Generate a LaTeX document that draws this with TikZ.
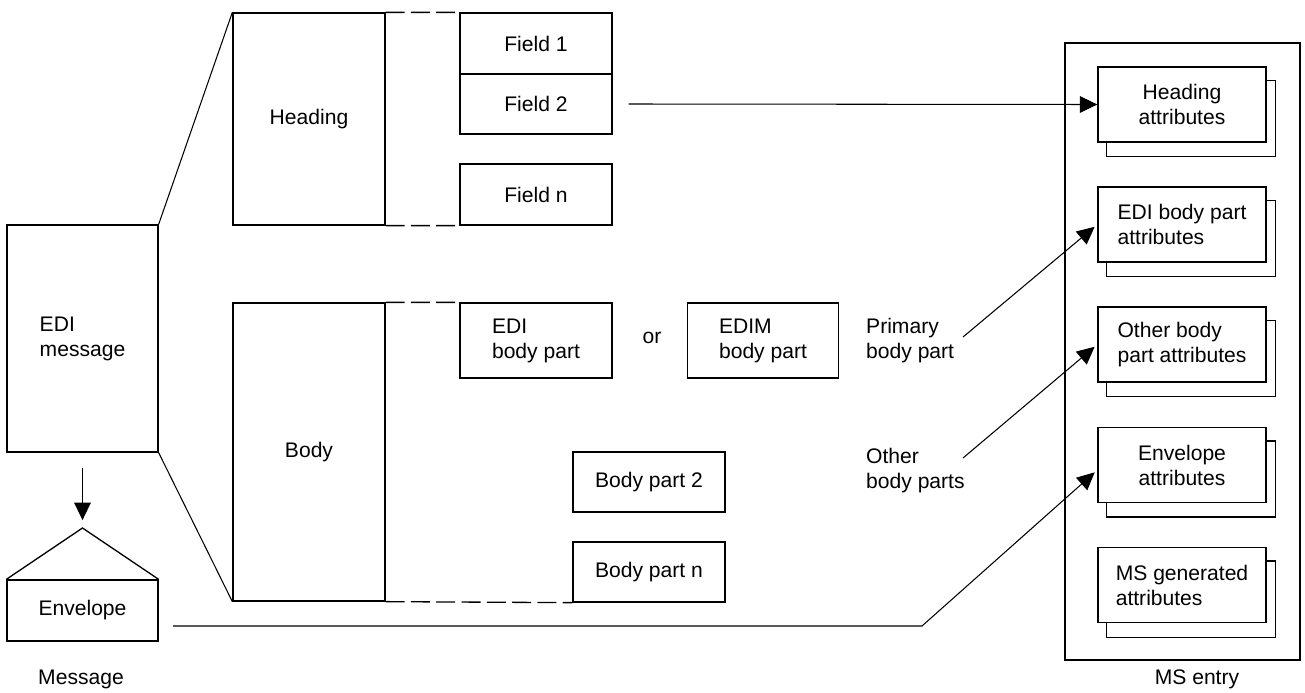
\documentclass[tikz,border=0pt]{standalone}
\usepackage{fontspec}
\setmainfont{Liberation Sans}
\usetikzlibrary{arrows.meta, backgrounds}

\begin{document}
\begin{tikzpicture}[x=0.02cm, y=-0.02cm,
  every node/.style={font=\fontsize{12}{14.2}\selectfont},
  box/.style={draw, line width=.75pt, inner sep=0pt, align=center},
  attr/.style={box, fill=white, minimum width=3.36cm, minimum height=1.5cm},
  link/.style={line width=.6pt},
  gap/.style={line width=.75pt, dash pattern=on 10.8pt off 3.6pt},
  arr/.style={link, -{Triangle[length=10pt, width=9.5pt]}}]
  \useasboundingbox (0,0) rectangle (1305,693);

  % message side
  \node[box, minimum width=3.02cm, minimum height=4.54cm, align=left] (msg) at (82.5,338.5) {EDI\\message};
  \node[box, minimum width=3.02cm, minimum height=1.22cm] (env) at (82.5,610.5) {Envelope};
  \coordinate (roof) at (82.5,528);
  \draw[box] (env.north west) -- (roof) -- (env.north east);
  \draw[arr, shorten >=4.5pt] ([yshift=-.3cm]msg.south) -- (roof);
  \node (msglbl) at (81,679) {Message};

  % heading and body
  \node[box, minimum width=3.04cm, minimum height=4.24cm] (head) at (309,119) {Heading};
  \node[box, minimum width=3.04cm, minimum height=5.96cm] (body) at (309,452) {Body};
  \draw[link] (msg.north east) -- (head.north west);
  \draw[link] (msg.south east) -- (body.south west);

  % fields
  \node[box, minimum width=3.04cm, minimum height=1.22cm] (f1) at (536,43.5) {Field 1};
  \node[box, minimum width=3.04cm, minimum height=1.2cm] (f2) at (536,104) {Field 2};
  \node[box, minimum width=3.04cm, minimum height=1.22cm] (fn) at (536,194.5) {Field n};

  % body parts
  \node[box, minimum width=3.04cm, minimum height=1.5cm, align=left] (edi) at (536,340.5) {EDI\\body part};
  \node (or) at (652,338) {or};
  \node[box, minimum width=3.02cm, minimum height=1.5cm, align=left] (edim) at (763,340.5) {EDIM\\body part};
  \node[box, minimum width=3.04cm, minimum height=1.2cm] (bp2) at (649,482) {Body part 2};
  \node[box, minimum width=3.04cm, minimum height=1.2cm] (bpn) at (649,572) {Body part n};

  \draw[gap] (head.north east) -- (f1.north west);
  \draw[gap] (head.south east) -- (fn.south west);
  \draw[gap] (body.north east) -- (edi.north west);
  \draw[gap] (body.south east) -- (bpn.south west);

  \node[anchor=west, align=left] (prim) at (860,341) {Primary\\body part};
  \node[anchor=west, align=left] (oth) at (860,471) {Other\\body parts};

  % MS entry
  \node[box, minimum width=4.7cm, minimum height=12.34cm] (entry) at (1182.5,351.5) {};
  \node (entrylbl) at (1197,679) {MS entry};
  \node[attr] (hat) at (1182,104.5) {Heading\\attributes};
  \node[attr, align=left] (eat) at (1182,224.5) {EDI body part\\attributes};
  \node[attr, align=left] (oat) at (1182,344.5) {Other body\\part attributes};
  \node[attr] (vat) at (1182,465) {Envelope\\attributes};
  \node[attr, align=left] (gat) at (1182,585) {MS generated\\attributes};
  \begin{scope}[on background layer]
    \foreach \att in {hat,eat,oat,vat,gat}
      \draw[box] ([shift={(9,14)}]\att.north west) rectangle ([shift={(9,14)}]\att.south east);
  \end{scope}

  % arrows into the entry
  \coordinate (pfrom) at (963,337);
  \coordinate (ofrom) at (963,458);
  \coordinate (efrom) at (173,626);
  \coordinate (ebend) at (922,626);
  \draw[arr] ([xshift=.32cm]f2.east) -- (hat.west);
  \draw[arr, shorten >=2pt] (pfrom) -- (eat.west);
  \draw[arr, shorten >=2pt] (ofrom) -- (oat.west);
  \draw[arr, shorten >=2pt] (efrom) -- (ebend) -- ([yshift=-.1cm]vat.west);
\end{tikzpicture}
\end{document}
